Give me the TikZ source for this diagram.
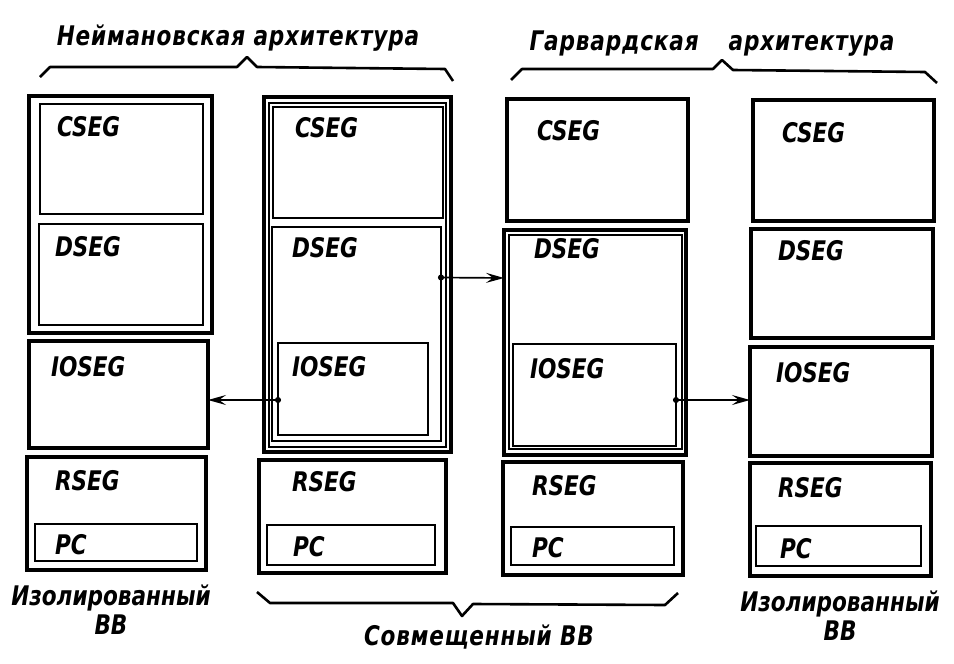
\documentclass[tikz,border=0pt]{standalone}
\usepackage{fontspec}
\setmainfont{DejaVu Sans}[FakeStretch=0.8]
\usetikzlibrary{positioning,arrows.meta,calc}

\begin{document}
\begin{tikzpicture}[x=1pt,y=-1pt,
  every node/.style={inner sep=0,outer sep=0},
  fat/.style={draw,line width=3.6pt,anchor=north west},
  mid/.style={draw,line width=2.4pt,anchor=north west},
  lean/.style={draw,line width=1.6pt,anchor=north west},
  seg/.style={anchor=north west,font=\fontsize{27}{27}\selectfont\bfseries\itshape},
  heading/.style={anchor=base,font=\fontsize{27}{29}\selectfont\bfseries\itshape\addfontfeatures{LetterSpace=3}},
  note/.style={anchor=north,align=center,font=\fontsize{27}{29}\selectfont\bfseries\itshape},
  brace/.style={line width=2.6pt,line join=round},
  link/.style={line width=1.7pt,shorten <=-3pt,{Circle[length=6pt]}-{Stealth[length=18pt,width=10pt,inset=7pt]}}]

\useasboundingbox (0,0) rectangle (954,664);

% column 1: von Neumann, isolated
\node[fat,minimum width=183pt,minimum height=237pt] (n1) at (29,96) {};
\node[mid,minimum width=163pt,minimum height=110pt] (n1-cs) at (40,104) {};
\node[mid,minimum width=164pt,minimum height=101pt] (n1-ds) at (39,224) {};
\node[fat,minimum width=179pt,minimum height=107pt] (n1-io) at (29,341) {};
\node[fat,minimum width=179pt,minimum height=113pt] (n1-rs) at (27,457) {};
\node[lean,minimum width=162pt,minimum height=37pt] (n1-pc) at (35,524) {};
\node[seg] (n1-cs-l) at (57,116) {CSEG};
\node[seg] (n1-ds-l) at (55,236) {DSEG};
\node[seg] (n1-io-l) at (51,356) {IOSEG};
\node[seg] (n1-rs-l) at (55,470) {RSEG};
\node[seg] (n1-pc-l) at (55,534) {PC};

% column 2: von Neumann, combined
\node[fat,minimum width=187pt,minimum height=355pt] (n2) at (264,97) {};
\node[lean,minimum width=177pt,minimum height=344pt] (n2-in) at (269,103) {};
\node[mid,minimum width=170pt,minimum height=111pt] (n2-cs) at (273,107) {};
\node[mid,minimum width=169pt,minimum height=214pt] (n2-ds) at (272,227) {};
\node[lean,minimum width=150pt,minimum height=92pt] (n2-io) at (278,343) {};
\node[fat,minimum width=187pt,minimum height=113pt] (n2-rs) at (259,460) {};
\node[lean,minimum width=168pt,minimum height=40pt] (n2-pc) at (267,525) {};
\node[seg] (n2-cs-l) at (295,117) {CSEG};
\node[seg] (n2-ds-l) at (292,237) {DSEG};
\node[seg] (n2-io-l) at (292,356) {IOSEG};
\node[seg] (n2-rs-l) at (292,471) {RSEG};
\node[seg] (n2-pc-l) at (293,536) {PC};

% column 3: Harvard, combined
\node[fat,minimum width=181pt,minimum height=122pt] (n3-cs) at (507,99) {};
\node[fat,minimum width=182pt,minimum height=225pt] (n3-ds) at (504,230) {};
\node[lean,minimum width=173pt,minimum height=214pt] (n3-in) at (509,235) {};
\node[mid,minimum width=163pt,minimum height=102pt] (n3-io) at (513,344) {};
\node[fat,minimum width=180pt,minimum height=113pt] (n3-rs) at (503,462) {};
\node[lean,minimum width=163pt,minimum height=38pt] (n3-pc) at (511,527) {};
\node[seg] (n3-cs-l) at (537,120) {CSEG};
\node[seg] (n3-ds-l) at (534,238) {DSEG};
\node[seg] (n3-io-l) at (530,358) {IOSEG};
\node[seg] (n3-rs-l) at (532,475) {RSEG};
\node[seg] (n3-pc-l) at (532,537) {PC};

% column 4: Harvard, isolated
\node[fat,minimum width=181pt,minimum height=121pt] (n4-cs) at (753,100) {};
\node[fat,minimum width=182pt,minimum height=109pt] (n4-ds) at (751,229) {};
\node[fat,minimum width=182pt,minimum height=109pt] (n4-io) at (750,347) {};
\node[fat,minimum width=181pt,minimum height=113pt] (n4-rs) at (750,463) {};
\node[lean,minimum width=165pt,minimum height=40pt] (n4-pc) at (756,526) {};
\node[seg] (n4-cs-l) at (782,122) {CSEG};
\node[seg] (n4-ds-l) at (778,240) {DSEG};
\node[seg] (n4-io-l) at (776,362) {IOSEG};
\node[seg] (n4-rs-l) at (778,477) {RSEG};
\node[seg] (n4-pc-l) at (780,538) {PC};

% links between segments
\draw[link] ($(n2-io.west)+(0,11)$) -- ($(n1-io.east)+(0,5.5)$);
\draw[link] ($(n2-ds.east)+(0,-56.5)$) -- ($(n3-ds.west)+(0,-64.5)$);
\draw[link] ($(n3-io.east)+(0,5)$) -- ($(n4-io.west)+(0,-1.5)$);

% braces
\draw[brace] (40,77) -- (50,67) -- (237,67) -- (247,57) -- (257,67) -- (445,69) -- (453,81);
\draw[brace] (511,80) -- (522,69) -- (713,69) -- (722,60) -- (733,70) -- (925,72) -- (937,83);
\draw[brace] (257,592) -- (270,603) -- (453,603) -- (462,616) -- (473,604) -- (665,605) -- (678,593);

\node[heading] (t-neu) at (238,45) {Неймановская архитектура};
\node[heading] (t-har) at (712,50) {Гарвардская\hspace{30pt}архитектура};
\node[heading] (t-com) at (479,645) {Совмещенный ВВ};
\node[note] (t-iso1) at (111,585) {Изолированный\\ВВ};
\node[note] (t-iso2) at (840,591) {Изолированный\\ВВ};

\end{tikzpicture}
\end{document}
